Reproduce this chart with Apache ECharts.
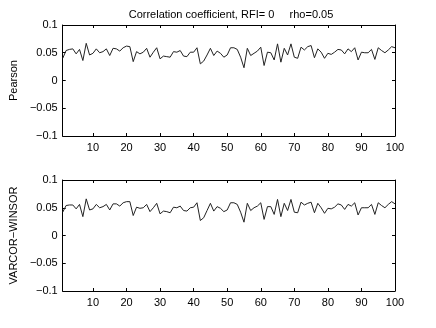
<!DOCTYPE html>
<html>
<head>
<meta charset="utf-8">
<script src="https://cdn.jsdelivr.net/npm/echarts@6/dist/echarts.min.js"></script>
<style>
  html, body { margin: 0; padding: 0; background: #fff; }
  #chart { width: 436px; height: 328px; }
</style>
</head>
<body>
<div id="chart"></div>
<script>
// 相關係數，RFI=0, rho=0.05 — 上：Pearson，下：VARCOR-WINSOR
var titleText = "Correlation coefficient, RFI= 0     rho=0.05";
var panelNames = ["Pearson", "VARCOR\u2212WINSOR"];
var xTicks = [10, 20, 30, 40, 50, 60, 70, 80, 90, 100];
var yTicks = [-0.1, -0.05, 0, 0.05, 0.1];

var pearson = [
  0.040, 0.054, 0.056, 0.057, 0.048, 0.056, 0.036, 0.067, 0.046, 0.049,
  0.057, 0.050, 0.052, 0.057, 0.045, 0.058, 0.057, 0.053, 0.059, 0.062,
  0.061, 0.034, 0.052, 0.048, 0.051, 0.058, 0.042, 0.051, 0.059, 0.039,
  0.044, 0.043, 0.042, 0.052, 0.051, 0.054, 0.044, 0.043, 0.051, 0.051,
  0.059, 0.030, 0.035, 0.046, 0.058, 0.045, 0.053, 0.049, 0.042, 0.046,
  0.059, 0.059, 0.056, 0.042, 0.023, 0.058, 0.045, 0.049, 0.053, 0.060,
  0.027, 0.051, 0.050, 0.037, 0.066, 0.033, 0.058, 0.046, 0.066, 0.042,
  0.040, 0.060, 0.055, 0.061, 0.063, 0.041, 0.057, 0.051, 0.040, 0.049,
  0.047, 0.051, 0.056, 0.055, 0.048, 0.057, 0.052, 0.059, 0.037, 0.051,
  0.050, 0.050, 0.056, 0.038, 0.059, 0.054, 0.050, 0.055, 0.061, 0.059
];
var varcor = [
  0.042, 0.054, 0.055, 0.055, 0.048, 0.056, 0.034, 0.066, 0.046, 0.048,
  0.056, 0.050, 0.052, 0.056, 0.046, 0.057, 0.057, 0.053, 0.059, 0.061,
  0.061, 0.036, 0.051, 0.049, 0.050, 0.056, 0.043, 0.050, 0.058, 0.039,
  0.044, 0.043, 0.041, 0.051, 0.050, 0.053, 0.045, 0.044, 0.050, 0.051,
  0.059, 0.027, 0.032, 0.045, 0.058, 0.044, 0.052, 0.049, 0.043, 0.046,
  0.059, 0.059, 0.056, 0.042, 0.024, 0.058, 0.045, 0.050, 0.053, 0.059,
  0.029, 0.052, 0.052, 0.038, 0.065, 0.034, 0.058, 0.045, 0.065, 0.042,
  0.041, 0.060, 0.055, 0.058, 0.060, 0.041, 0.058, 0.050, 0.040, 0.049,
  0.048, 0.051, 0.057, 0.055, 0.047, 0.056, 0.053, 0.059, 0.037, 0.050,
  0.050, 0.050, 0.056, 0.038, 0.059, 0.054, 0.050, 0.056, 0.061, 0.057
];

(function () {
  "use strict";
  var FONT = "Liberation Sans";
  var INK = "#000";

  function pairs(vals) {
    return vals.map(function (v, i) { return [i + 1, v]; });
  }
  function fmtY(v) {
    var s = String(+v.toFixed(2));
    return s.replace("-", "\u2212");
  }

  // MATLAB 風格框線：主軸有標籤，對側軸只畫內向刻度
  function xAxes(gi) {
    var base = {
      type: "value", gridIndex: gi, min: 1, max: 100,
      splitLine: { show: false },
      axisLine: { show: true, onZero: false, lineStyle: { color: INK, width: 1 } },
      axisTick: { inside: true, length: 3, customValues: xTicks, lineStyle: { color: INK } }
    };
    return [
      Object.assign({}, base, {
        position: "bottom",
        axisLabel: { customValues: xTicks, color: INK, fontFamily: FONT, fontSize: 11, margin: 6 }
      }),
      Object.assign({}, base, { position: "top", axisLabel: { show: false } })
    ];
  }
  function yAxes(gi, name) {
    var base = {
      type: "value", gridIndex: gi, min: -0.1, max: 0.1, interval: 0.05,
      splitLine: { show: false },
      axisLine: { show: true, onZero: false, lineStyle: { color: INK, width: 1 } },
      axisTick: { inside: true, length: 3, lineStyle: { color: INK } }
    };
    return [
      Object.assign({}, base, {
        position: "left", name: name, nameLocation: "middle", nameGap: 31,
        nameTextStyle: { color: INK, fontFamily: FONT, fontSize: 11 },
        axisLabel: { color: INK, fontFamily: FONT, fontSize: 11, margin: 5, formatter: fmtY }
      }),
      Object.assign({}, base, { position: "right", axisLabel: { show: false } })
    ];
  }

  var chart = echarts.init(document.getElementById("chart"), null, { renderer: "canvas" });
  var xs = xAxes(0).concat(xAxes(1));
  var ys = yAxes(0, panelNames[0]).concat(yAxes(1, panelNames[1]));

  function lineSer(xi, yi, data) {
    return {
      type: "line", xAxisIndex: xi, yAxisIndex: yi, data: pairs(data),
      symbol: "none", silent: true, animation: false,
      lineStyle: { color: "#222", width: 1 }
    };
  }

  chart.setOption({
    animation: false,
    title: {
      text: titleText, left: 226, top: 4, textAlign: "center",
      textStyle: { color: INK, fontFamily: FONT, fontSize: 11, fontWeight: "normal" }
    },
    grid: [
      { left: 57, right: 41, top: 25, height: 111 },
      { left: 57, right: 41, top: 180, height: 111 }
    ],
    xAxis: xs,
    yAxis: ys,
    series: [lineSer(0, 0, pearson), lineSer(2, 2, varcor)]
  });
})();
</script>
</body>
</html>
